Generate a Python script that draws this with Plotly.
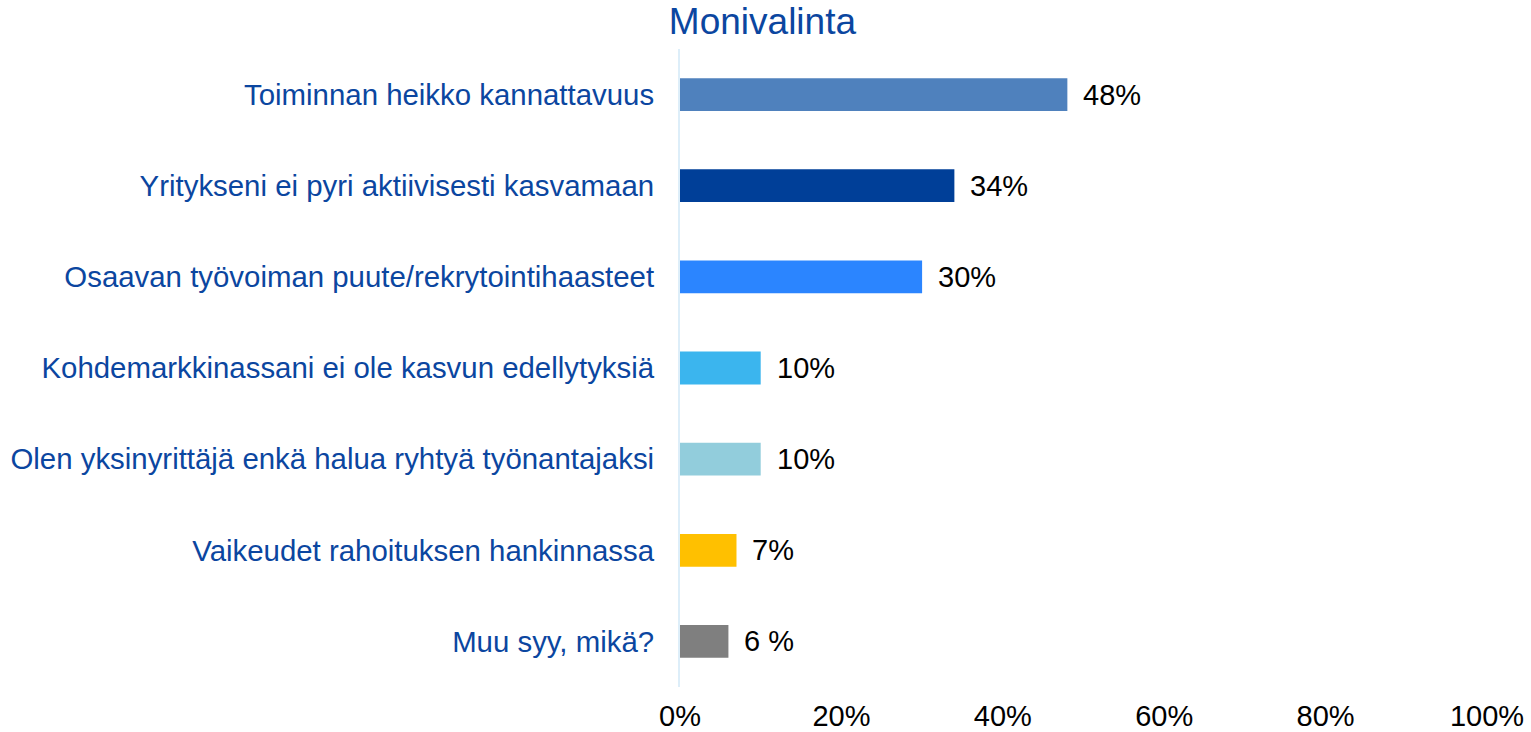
import plotly.graph_objects as go

categories = [
    "Toiminnan heikko kannattavuus",
    "Yritykseni ei pyri aktiivisesti kasvamaan",
    "Osaavan työvoiman puute/rekrytointihaasteet",
    "Kohdemarkkinassani ei ole kasvun edellytyksiä",
    "Olen yksinyrittäjä enkä halua ryhtyä työnantajaksi",
    "Vaikeudet rahoituksen hankinnassa",
    "Muu syy, mikä?",
]
values = [0.48, 0.34, 0.30, 0.10, 0.10, 0.07, 0.06]
value_labels = ["48%", "34%", "30%", "10%", "10%", "7%", "6 %"]
bar_colors = ["#4F81BD", "#003F98", "#2B85FF", "#3BB5EE", "#92CDDC", "#FFC000", "#7F7F7F"]
tick_vals = [0, 0.2, 0.4, 0.6, 0.8, 1.0]
tick_text = ["0%", "20%", "40%", "60%", "80%", "100%"]
title_text = "Monivalinta"

FONT = "Liberation Sans, Arial, sans-serif"
BLUE = "#0B46A0"

fig = go.Figure()
fig.add_trace(go.Bar(
    x=values, y=categories, orientation="h",
    marker=dict(color=bar_colors, line=dict(width=0)),
    hoverinfo="skip",
))

for v, c, t in zip(values, categories, value_labels):
    fig.add_annotation(x=v, y=c, text=t, xanchor="left", yanchor="middle",
                       xshift=14, showarrow=False,
                       font=dict(family=FONT, size=29, color="#000000"))

fig.update_layout(
    width=1531, height=732,
    margin=dict(l=680, r=44, t=49, b=45, autoexpand=False),
    paper_bgcolor="white", plot_bgcolor="white",
    bargap=0.64,
    showlegend=False,
    title=dict(text=title_text, x=0.498, xref="container", xanchor="center",
               y=0.971, yref="container", yanchor="middle",
               font=dict(family=FONT, size=37, color=BLUE)),
    xaxis=dict(range=[0, 1], tickvals=tick_vals, ticktext=tick_text,
               showgrid=False, zeroline=False, showline=False, ticks="",
               ticklabelstandoff=9, automargin=False,
               tickfont=dict(family=FONT, size=29, color="#000000")),
    yaxis=dict(autorange="reversed", showgrid=False, zeroline=False,
               showline=True, linecolor="#DDEEF9", linewidth=2,
               ticks="", ticklabelstandoff=18, automargin=False,
               tickfont=dict(family=FONT, size=29.4, color=BLUE)),
)

fig.write_html(
    "out.html",
    config={"displayModeBar": False},
    post_script="document.body.style.margin='0';document.body.style.overflow='hidden';",
)
